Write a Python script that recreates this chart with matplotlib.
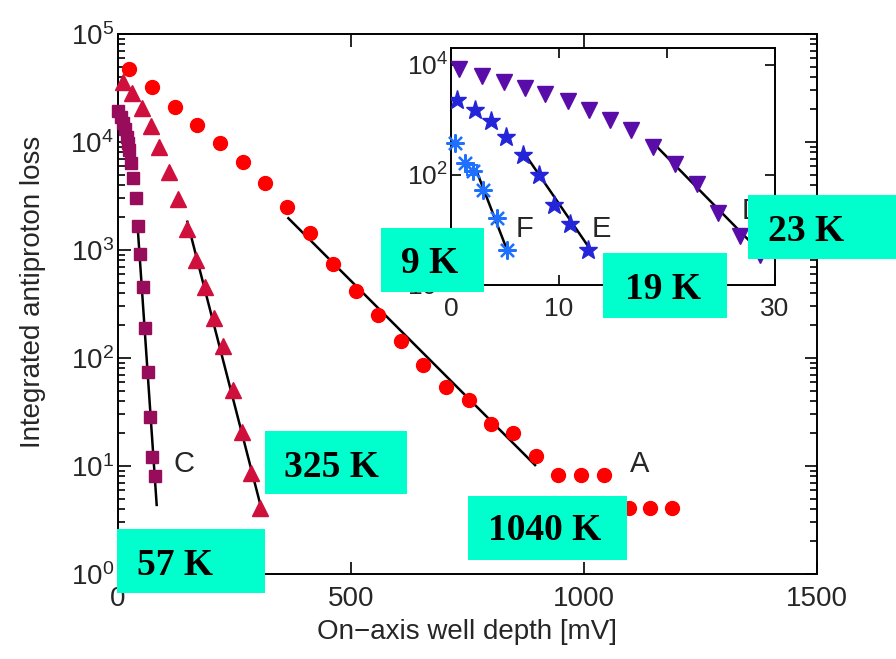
import matplotlib
matplotlib.use("Agg")
import matplotlib.pyplot as plt
from matplotlib.patches import Rectangle
from matplotlib.ticker import LogLocator, NullLocator, FixedLocator

plt.rcParams['font.family'] = ['Liberation Sans', 'DejaVu Sans']
plt.rcParams['mathtext.fontset'] = 'custom'
plt.rcParams['mathtext.rm'] = 'Liberation Sans'
plt.rcParams['mathtext.it'] = 'Liberation Sans:italic'

# ---- main panel: integrated loss vs on-axis well depth [mV] ----
a_x = [24, 74, 123, 170, 219, 268, 315, 363, 412, 462, 510, 559, 608, 655,
       704, 754, 801, 847, 897, 945, 994, 1042, 1096, 1142, 1189]
a_y = [47100, 32100, 21200, 14300, 9860, 6530, 4200, 2480, 1450, 738, 413,
       250, 145, 86, 54, 41, 24.5, 20.3, 12.4, 8.3, 8.3, 8.3, 4.06, 4.06, 4.06]

b_x = [10, 29, 51, 70, 89, 110, 128, 149, 168, 187, 207, 226, 246, 266, 285, 305]
b_y = [36100, 28200, 20500, 14100, 8930, 5310, 2940, 1560, 807, 450, 233,
       129, 50.6, 20.8, 8.55, 4.06]

c_x = [0.6, 5.8, 10.1, 15.0, 18.7, 22.1, 24.3, 27.9, 32.8, 38.6, 43.6, 47.2,
       53, 58, 63.8, 68.7, 72.4, 79.4]
c_y = [19500, 17100, 14900, 13100, 11200, 9730, 8430, 6350, 4610, 3010, 1680,
       918, 450, 188, 74.6, 28.6, 12.2, 8.07]

fit_a_x, fit_a_y = [365.6, 895], [1968, 10.2]
fit_b_x, fit_b_y = [148.8, 309], [1828, 3.83]
fit_c_x, fit_c_y = [41.4, 83], [1828, 4.36]

# ---- inset panel ----
d_x = [0.74, 2.84, 4.91, 6.85, 8.70, 10.8, 12.8, 14.7, 16.7, 18.7, 20.7,
       22.75, 24.75, 26.76, 28.6]
d_y = [8320, 6170, 4790, 3800, 2950, 2140, 1480, 1000, 646, 316, 155, 69,
       20.4, 7.8, 3.5]

e_x = [0.58, 2.22, 3.68, 5.09, 6.64, 8.18, 9.54, 11.0, 12.66]
e_y = [2310, 1480, 933, 490, 229, 100, 28.5, 12.9, 4.3]

f_x = [0.37, 1.30, 2.06, 2.99, 4.23, 5.16]
f_y = [377, 163, 115, 53, 16.3, 4.3]
f_open_x, f_open_y = [1.92], [123]

fit_d_x, fit_d_y = [18.73, 27.7], [377, 6.12]
fit_e_x, fit_e_y = [6.69, 12.71], [263, 5.0]
fit_f_x, fit_f_y = [2.38, 5.3], [115, 3.8]

main_xticks = [0, 500, 1000, 1500]
inset_xticks = [0, 10, 20, 30]
inset_yticks = [1, 100, 10000]

temps = ["57 K", "325 K", "1040 K", "9 K", "19 K", "23 K"]

W, H = 896, 659
fig = plt.figure(figsize=(W / 100, H / 100), dpi=100)


def fx(x):
    return x / W


def fy(y):
    return 1 - y / H


txt_col = '#262626'

ax = fig.add_axes([fx(118), fy(574), fx(817) - fx(118), fy(34) - fy(574)])
ax.set_yscale('log')
ax.set_xlim(0, 1500)
ax.set_ylim(1, 1e5)
ax.set_xticks(main_xticks)
ax.yaxis.set_major_locator(LogLocator(base=10, numticks=10))
ax.yaxis.set_minor_locator(LogLocator(base=10, subs=range(2, 10), numticks=20))
ax.tick_params(which='both', direction='in', top=True, right=True,
               labelsize=20, labelcolor=txt_col, width=1.2)
ax.tick_params(which='major', length=9)
ax.tick_params(which='minor', length=5)
ax.tick_params(axis='x', pad=9)
ax.tick_params(axis='y', pad=3)
for s in ax.spines.values():
    s.set_linewidth(1.4)

line_kw = dict(color='black', lw=1.8, zorder=2)
ax.plot(fit_a_x, fit_a_y, **line_kw)
ax.plot(fit_b_x, fit_b_y, **line_kw)
ax.plot(fit_c_x, fit_c_y, **line_kw)

ax.plot(a_x, a_y, 'o', color='#ff0000', ms=10, mec='#ff0000', zorder=3, clip_on=False)
ax.plot(b_x, b_y, '^', color='#d0103c', ms=11, mec='#d0103c', zorder=3, clip_on=False)
ax.plot(c_x, c_y, 's', color='#980c5c', ms=8, mec='#980c5c', zorder=3, clip_on=False)

ax.text(1119, 10.4, 'A', fontsize=21, color=txt_col, ha='center', va='center')
ax.text(142, 10.4, 'C', fontsize=21, color=txt_col, ha='center', va='center')

fig.text(fx(33), fy(292), 'Integrated antiproton loss', rotation=90,
         fontsize=20, color=txt_col, ha='center', va='center')
fig.text(fx(467), fy(632), 'On\u2212axis well depth [mV]',
         fontsize=20, color=txt_col, ha='center', va='center')

# ---- inset ----
ins = fig.add_axes([fx(451), fy(285), fx(775) - fx(451), fy(48) - fy(285)])
ins.set_yscale('log')
ins.set_xlim(0, 30)
ins.set_ylim(1, 2e4)
ins.xaxis.set_major_locator(FixedLocator(inset_xticks))
ins.yaxis.set_major_locator(FixedLocator(inset_yticks))
ins.yaxis.set_minor_locator(NullLocator())
ins.tick_params(which='both', direction='in', top=True, right=True,
                labelsize=19, labelcolor=txt_col, length=7, width=1.2)
ins.tick_params(axis='x', pad=9)
ins.tick_params(axis='y', pad=2)
for s in ins.spines.values():
    s.set_linewidth(1.4)

ins.plot(fit_d_x, fit_d_y, **line_kw)
ins.plot(fit_e_x, fit_e_y, **line_kw)
ins.plot(fit_f_x, fit_f_y, **line_kw)

ins.plot(d_x, d_y, 'v', color='#5a0ca8', ms=11, mec='#5a0ca8', zorder=3)
ins.plot(e_x, e_y, '*', color='#2424d8', ms=14, mec='#2424d8', zorder=3)
ins.plot(f_x, f_y, ls='none', marker=(8, 2, 0), color='#2070ff', ms=13,
         mew=1.6, zorder=3, clip_on=False)
ins.plot(f_open_x, f_open_y, 's', mfc='none', mec='#2070ff', ms=7, mew=1.4, zorder=3)

ins.text(6.76, 10.4, 'F', fontsize=21, color=txt_col, ha='center', va='center')
ins.text(13.93, 10.4, 'E', fontsize=21, color=txt_col, ha='center', va='center')
ins.text(27.87, 22, 'D', fontsize=21, color=txt_col, ha='center', va='center')

# ---- temperature tags ----
tag_boxes = [
    (117, 529, 265, 593, 137, 575),
    (265, 431, 407, 494, 284, 477),
    (468, 496, 627, 560, 488, 540),
    (381, 228, 484, 292, 401, 273),
    (603, 253, 727, 318, 625, 299),
    (748, 195, 896, 259, 768, 241),
]
for label, (x0, y0, x1, y1, tx, ty) in zip(temps, tag_boxes):
    fig.patches.append(Rectangle((fx(x0), fy(y1)), fx(x1) - fx(x0), fy(y0) - fy(y1),
                                 transform=fig.transFigure, facecolor='#00ffcc',
                                 edgecolor='none', zorder=10))
    fig.text(fx(tx), fy(ty), label, fontsize=27, fontweight='bold',
             family=['Liberation Serif', 'DejaVu Serif'], color='black',
             ha='left', va='baseline', zorder=11)

fig.savefig('out.png', dpi=100)
